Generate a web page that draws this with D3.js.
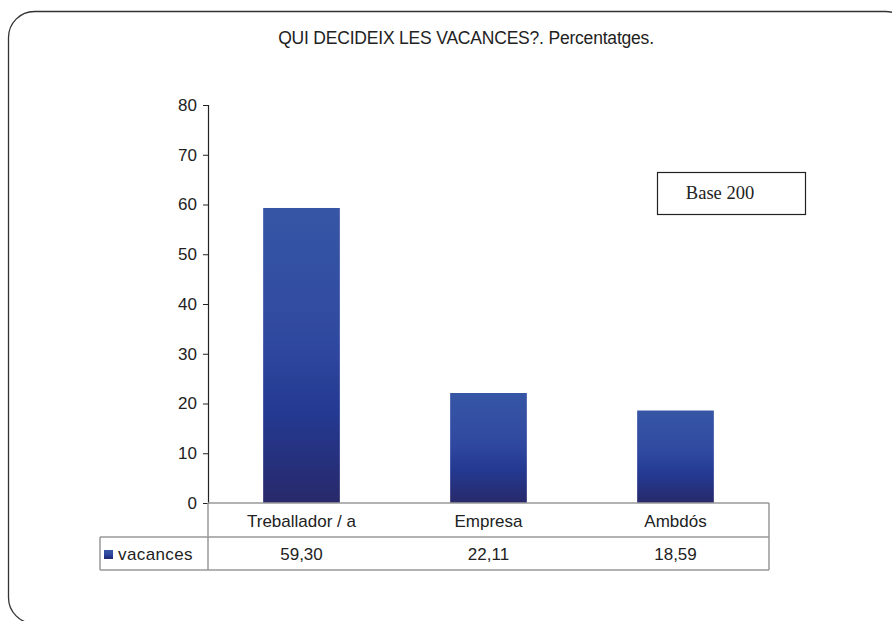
<!DOCTYPE html>
<html>
<head>
    <script type="text/javascript" src="https://cdn.jsdelivr.net/npm/d3@7"></script>
    <style>
        body { margin: 0; background: #fff; }
        text { font-family: "Liberation Sans", Arial, sans-serif; fill: #222; }
    </style>
</head>

<body>
    <div id="viz"></div>
    <script type="text/javascript">

    var categories = ["Treballador / a", "Empresa", "Ambdós"],
        values = [59.30, 22.11, 18.59],
        valueLabels = ["59,30", "22,11", "18,59"],
        yTicks = [0, 10, 20, 30, 40, 50, 60, 70, 80],
        seriesName = "vacances",
        title = "QUI DECIDEIX LES VACANCES?. Percentatges.",
        note = "Base 200";

    var svg = d3.select("#viz")
        .append("svg")
        .attr("width", 892)
        .attr("height", 621);

    // gradient for the bars
    var grad = svg.append("defs").append("linearGradient")
        .attr("id", "barGrad")
        .attr("x1", 0).attr("y1", 0).attr("x2", 0).attr("y2", 1);
    grad.append("stop").attr("offset", "0%").attr("stop-color", "#3656a5");
    grad.append("stop").attr("offset", "45%").attr("stop-color", "#3049a0");
    grad.append("stop").attr("offset", "70%").attr("stop-color", "#243991");
    grad.append("stop").attr("offset", "100%").attr("stop-color", "#28296a");

    // outer rounded frame (runs off the page on the right and bottom)
    svg.append("rect")
        .attr("x", 8.5).attr("y", 11.5)
        .attr("width", 903).attr("height", 612)
        .attr("rx", 26).attr("ry", 26)
        .style("fill", "none")
        .style("stroke", "#333")
        .style("stroke-width", 1.3);

    svg.append("text")
        .attr("x", 466).attr("y", 44)
        .attr("text-anchor", "middle")
        .style("font-size", "17.5px")
        .style("letter-spacing", "-0.2px")
        .text(title);

    var plotLeft = 208, plotRight = 769, plotTop = 105, plotBottom = 503;

    var x = d3.scaleBand()
        .domain(categories)
        .range([plotLeft, plotRight])
        .paddingInner(0.59)
        .paddingOuter(0.295);

    var y = d3.scaleLinear()
        .domain([0, 80])
        .range([plotBottom, plotTop]);

    // bars
    svg.selectAll("rect.bar")
        .data(values)
        .enter().append("rect")
        .attr("class", "bar")
        .attr("x", function(d, i){ return x(categories[i]); })
        .attr("width", x.bandwidth())
        .attr("y", function(d){ return y(d); })
        .attr("height", function(d){ return y(0) - y(d); })
        .style("fill", "url(#barGrad)");

    // y axis
    var yAxis = svg.append("g")
        .attr("transform", "translate(" + plotLeft + ",0)")
        .call(d3.axisLeft(y).tickValues(yTicks).tickSize(5).tickPadding(6));
    yAxis.select(".domain").attr("stroke", "#222").attr("stroke-width", 1.2);
    yAxis.selectAll(".tick line").attr("stroke", "#222");
    yAxis.selectAll(".tick text")
        .style("font-size", "17px")
        .style("font-family", "'Liberation Sans', Arial, sans-serif")
        .attr("fill", "#222");

    // data table below the plot
    var row1 = 537, row2 = 570, legLeft = 100;
    var table = svg.append("g")
        .style("stroke", "#999")
        .style("stroke-width", 1.5);
    table.append("line").attr("x1", plotLeft).attr("x2", plotRight).attr("y1", plotBottom).attr("y2", plotBottom);
    table.append("line").attr("x1", legLeft).attr("x2", plotRight).attr("y1", row1).attr("y2", row1);
    table.append("line").attr("x1", legLeft).attr("x2", plotRight).attr("y1", row2).attr("y2", row2);
    table.append("line").attr("x1", plotLeft).attr("x2", plotLeft).attr("y1", plotBottom).attr("y2", row2);
    table.append("line").attr("x1", plotRight).attr("x2", plotRight).attr("y1", plotBottom).attr("y2", row2);
    table.append("line").attr("x1", legLeft).attr("x2", legLeft).attr("y1", row1).attr("y2", row2);

    var colCenter = function(c){ return x(c) + x.bandwidth() / 2; };

    svg.selectAll("text.cat")
        .data(categories)
        .enter().append("text")
        .attr("class", "cat")
        .attr("x", colCenter)
        .attr("y", 527)
        .attr("text-anchor", "middle")
        .style("font-size", "17px")
        .text(function(d){ return d; });

    svg.selectAll("text.val")
        .data(valueLabels)
        .enter().append("text")
        .attr("class", "val")
        .attr("x", function(d, i){ return colCenter(categories[i]); })
        .attr("y", 560)
        .attr("text-anchor", "middle")
        .style("font-size", "17px")
        .text(function(d){ return d; });

    // legend key in the table
    svg.append("rect")
        .attr("x", 104).attr("y", 550)
        .attr("width", 9).attr("height", 9)
        .style("fill", "url(#barGrad)");
    svg.append("text")
        .attr("x", 118).attr("y", 560)
        .style("font-size", "17px")
        .style("letter-spacing", "0.4px")
        .text(seriesName);

    // "Base 200" note box
    svg.append("rect")
        .attr("x", 657.5).attr("y", 172.5)
        .attr("width", 148).attr("height", 42)
        .style("fill", "#fff")
        .style("stroke", "#222")
        .style("stroke-width", 1.2);
    svg.append("text")
        .attr("x", 720).attr("y", 199)
        .attr("text-anchor", "middle")
        .style("font-family", "'Liberation Serif', 'Times New Roman', serif")
        .style("font-size", "18.5px")
        .text(note);

    </script>
</body>
</html>
